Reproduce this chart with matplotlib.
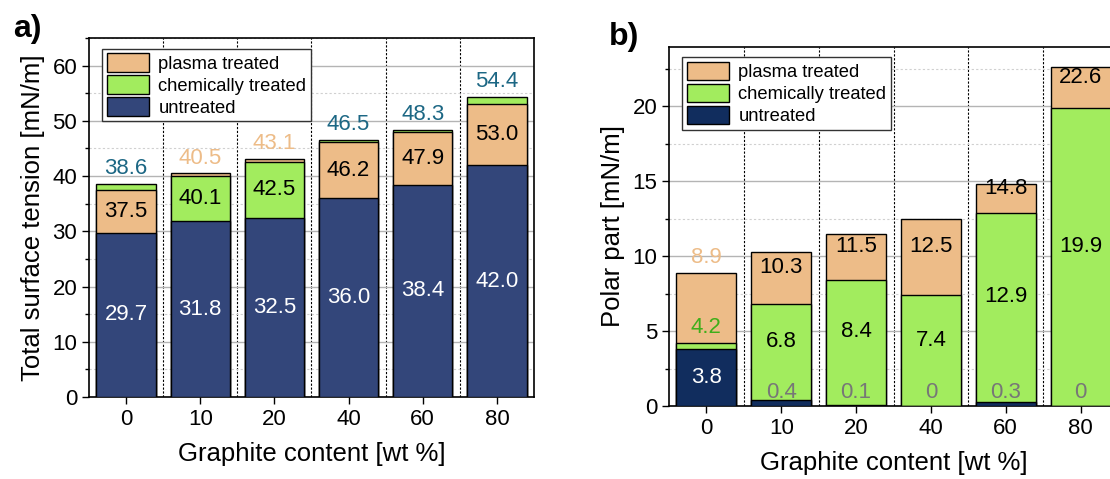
import numpy as np
import matplotlib
matplotlib.use('Agg')
import matplotlib.pyplot as plt
from matplotlib.patches import Patch
from matplotlib.ticker import MultipleLocator

plt.rcParams['font.family'] = ['Liberation Sans', 'DejaVu Sans']

# data
categories = ['0', '10', '20', '40', '60', '80']

a_untreated = [29.7, 31.8, 32.5, 36.0, 38.4, 42.0]
a_chemical = [38.6, 40.1, 42.5, 46.5, 48.3, 54.4]
a_plasma = [37.5, 40.5, 43.1, 46.2, 47.9, 53.0]

b_untreated = [3.8, 0.4, 0.1, 0, 0.3, 0]
b_chemical = [4.2, 6.8, 8.4, 7.4, 12.9, 19.9]
b_plasma = [8.9, 10.3, 11.5, 12.5, 14.8, 22.6]

c_plasma = '#EDBC88'
c_chem = '#A2EC5E'
c_untr_a = '#33467A'
c_untr_b = '#112D5E'

LBL = 16


def fmt(v):
    return '0' if v == 0 else f'{v:.1f}'


def draw_panel(ax, untreated, chemical, plasma, c_untr, top_colors, thin, mid_shift, ymax, major, minor):
    x = np.arange(len(categories))
    w = 0.8
    for i in x:
        vals = [('u', untreated[i], c_untr), ('c', chemical[i], c_chem), ('p', plasma[i], c_plasma)]
        # tallest drawn first, so shorter bars sit on top
        for k, (name, v, col) in enumerate(sorted(vals, key=lambda t: -t[1])):
            ax.bar(i, v, w, color=col, edgecolor='black', linewidth=1.0, zorder=3 + k)

        # labels, bottom to top
        order = sorted(vals, key=lambda t: t[1])
        prev = 0
        above = False
        for name, v, col in order:
            if name == 'u':
                if v >= 1:
                    ax.text(i, v / 2, fmt(v), ha='center', va='center', color='white', fontsize=LBL, zorder=10)
                else:
                    ax.text(i, 0.9 * ymax / 24, fmt(v), ha='center', va='center', color='#777777', fontsize=LBL, zorder=10)
                prev = v
                continue
            if above or v - prev < thin:
                above = True
                ax.annotate(fmt(v), (i, v), xytext=(0, 11), textcoords='offset points',
                            ha='center', va='center', color=top_colors[name], fontsize=LBL, zorder=10)
            else:
                ax.text(i, (v + prev) / 2 + mid_shift, fmt(v), ha='center', va='center', color='black',
                        fontsize=LBL, zorder=10)
            prev = v

    ax.set_xlim(-0.5, 5.5)
    ax.set_ylim(0, ymax)
    ax.set_xticks(x)
    ax.set_xticklabels(categories)
    ax.yaxis.set_major_locator(MultipleLocator(major))
    ax.yaxis.set_minor_locator(MultipleLocator(minor))
    ax.grid(axis='y', which='major', color='#b4b4b4', linewidth=1.0, zorder=0)
    ax.grid(axis='y', which='minor', color='#d0d0d0', linewidth=0.8, linestyle=(0, (2, 2)), zorder=0)
    for b in np.arange(0.5, 5.5, 1.0):
        ax.axvline(b, color='black', linewidth=0.8, linestyle=(0, (2, 1.5)), zorder=1)
    ax.tick_params(axis='both', which='major', direction='out', length=5, width=1.0, labelsize=16)
    ax.tick_params(axis='y', which='minor', direction='out', length=3, width=1.0)
    ax.tick_params(axis='x', which='minor', bottom=False)
    for s in ax.spines.values():
        s.set_linewidth(1.2)
    ax.set_xlabel('Graphite content [wt %]', fontsize=18.5, labelpad=9)

    handles = [Patch(facecolor=c_plasma, edgecolor='black', label='plasma treated'),
               Patch(facecolor=c_chem, edgecolor='black', label='chemically treated'),
               Patch(facecolor=c_untr, edgecolor='black', label='untreated')]
    leg = ax.legend(handles=handles, loc='upper left', bbox_to_anchor=(0.03, 0.97), fontsize=13.2,
                    fancybox=False, edgecolor='#333333', framealpha=1, handlelength=2.3, handleheight=1.15,
                    labelspacing=0.15, borderpad=0.25, handletextpad=0.5, borderaxespad=0)
    leg.get_frame().set_linewidth(1.0)
    leg.set_zorder(20)


fig = plt.figure(figsize=(11.1, 4.79), dpi=100)

ax1 = fig.add_axes([89 / 1110, 1 - 397 / 479, 445 / 1110, 359 / 479])
draw_panel(ax1, a_untreated, a_chemical, a_plasma, c_untr_a,
           {'c': '#1C6784', 'p': c_plasma}, 2.0, 0.0, 65, 10, 5)
ax1.set_ylabel('Total surface tension [mN/m]', fontsize=18.5, labelpad=5)

ax2 = fig.add_axes([669 / 1110, 1 - 406 / 479, 449 / 1110, 359.5 / 479])
draw_panel(ax2, b_untreated, b_chemical, b_plasma, c_untr_b,
           {'c': '#3FAE1A', 'p': c_plasma}, 1.5, 0.7, 24, 5, 2.5)
ax2.set_ylabel('Polar part [mN/m]', fontsize=18.5, labelpad=5)

fig.text(27 / 1110, 1 - 29 / 479, 'a)', fontsize=23, fontweight='bold', ha='center', va='center')
fig.text(624 / 1110, 1 - 37 / 479, 'b)', fontsize=23, fontweight='bold', ha='center', va='center')

fig.savefig('out.png', dpi=100)
